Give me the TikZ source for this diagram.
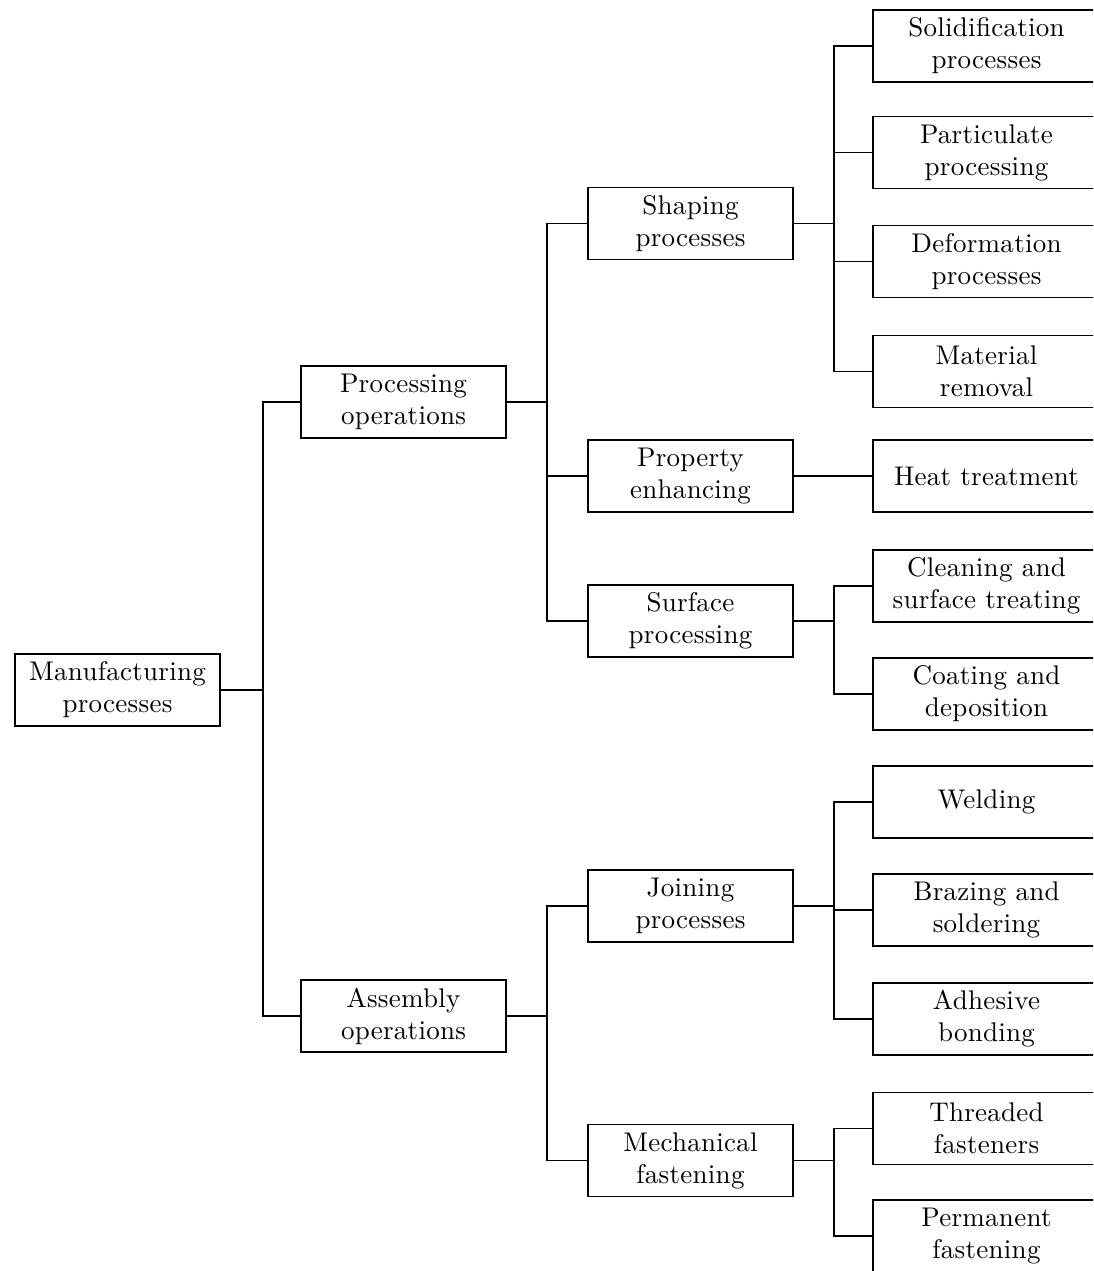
\documentclass[tikz,border=0pt]{standalone}
\usepackage{fontspec}
\newfontfamily\boxfont{lmroman10-regular}[Extension=.otf,LetterSpace=1]
\begin{document}
\begin{tikzpicture}[x=1pt,y=-1pt,
  box/.style={draw,line width=1.5pt,minimum width=205pt,minimum height=72pt,inner sep=0pt,align=center,font=\boxfont\fontsize{27}{32}\selectfont},
  leaf/.style={box,minimum width=227pt},
  conn/.style={line width=1.5pt}]
\useasboundingbox (0,0) rectangle (1093,1271);
\clip (0,0) rectangle (1093,1271);
% level 0
\node[box] (man) at (117.5,690) {Manufacturing\\processes};
% level 1
\node[box] (proc) at (403.5,402) {Processing\\operations};
\node[box] (asm) at (403.5,1016) {Assembly\\operations};
% level 2
\node[box] (shape) at (690.5,223.5) {Shaping\\processes};
\node[box] (prop) at (690.5,476) {Property\\enhancing};
\node[box] (surf) at (690.5,621) {Surface\\processing};
\node[box] (join) at (690.5,906) {Joining\\processes};
\node[box] (mech) at (690.5,1160.5) {Mechanical\\fastening};
% level 3
\node[leaf] (sol) at (986.5,46) {Solidification\\processes};
\node[leaf] (part) at (986.5,152.5) {Particulate\\processing};
\node[leaf] (def) at (986.5,261.5) {Deformation\\processes};
\node[leaf] (mat) at (986.5,371.5) {Material\\removal};
\node[leaf] (heat) at (986.5,476) {Heat treatment};
\node[leaf] (clean) at (986.5,586) {Cleaning and\\surface treating};
\node[leaf] (coat) at (986.5,694) {Coating and\\deposition};
\node[leaf] (weld) at (986.5,802) {Welding};
\node[leaf] (braz) at (986.5,910) {Brazing and\\soldering};
\node[leaf] (adh) at (986.5,1019) {Adhesive\\bonding};
\node[leaf] (thr) at (986.5,1128.5) {Threaded\\fasteners};
\node[leaf] (perm) at (986.5,1236) {Permanent\\fastening};
% connectors
\foreach \c in {proc,asm} \draw[conn] (man.east) -- ++(42,0) |- (\c.west);
\foreach \c in {shape,prop,surf} \draw[conn] (proc.east) -- ++(40,0) |- (\c.west);
\foreach \c in {join,mech} \draw[conn] (asm.east) -- ++(40,0) |- (\c.west);
\foreach \c in {sol,part,def,mat} \draw[conn] (shape.east) -- ++(40,0) |- (\c.west);
\draw[conn] (prop.east) -- (heat.west);
\foreach \c in {clean,coat} \draw[conn] (surf.east) -- ++(40,0) |- (\c.west);
\foreach \c in {weld,braz,adh} \draw[conn] (join.east) -- ++(40,0) |- (\c.west);
\foreach \c in {thr,perm} \draw[conn] (mech.east) -- ++(40,0) |- (\c.west);
\end{tikzpicture}
\end{document}
